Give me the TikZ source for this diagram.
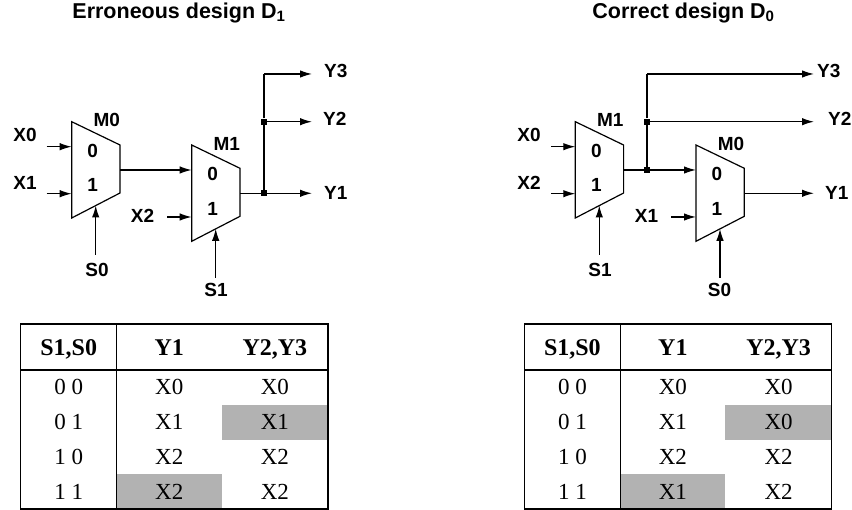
\documentclass[tikz,border=0pt]{standalone}
\usepackage{fontspec}
\setmainfont{Liberation Serif}
\newfontfamily\helv{Liberation Sans}
\usetikzlibrary{arrows.meta,positioning,calc}
\tikzset{sig/.style={-{Latex[length=12pt,width=7.5pt]},line width=1.3pt},
  wire/.style={line width=1.3pt},
  grid/.style={line width=1.4pt},
  lbl/.style={font=\helv\bfseries\fontsize{19}{21}\selectfont,inner sep=0pt,
    text height=13.6pt,text depth=0pt},
  ttl/.style={font=\helv\bfseries\fontsize{21.5}{24}\selectfont,inner sep=0pt,anchor=base},
  hcell/.style={font=\bfseries\fontsize{24}{26}\selectfont,inner sep=0pt,
    text height=16.2pt,text depth=0pt},
  bcell/.style={font=\fontsize{23}{25}\selectfont,inner sep=0pt,
    text height=15.2pt,text depth=0pt},
  jdot/.style={rectangle,fill=black,minimum size=6pt,inner sep=0pt},
  mux/.pic={
    \draw[line width=1.2pt] (0,0) -- (48.3,23.3) -- (48.3,71.3) -- (0,96.3) -- cycle;
    \coordinate (-in0) at (0,25);
    \coordinate (-in1) at (0,72);
    \coordinate (-out) at (48.3,48.3);
    \coordinate (-sel) at (24,83.8);
    \node[lbl] (-zero) at (21,29) {0};
    \node[lbl] (-one) at (21,63.5) {1};
    \node[lbl] (-name) at (35,-1.6) {#1};
  }
}
\colorlet{cellgray}{black!30}

\begin{document}
\begin{tikzpicture}[x=1pt,y=-1pt]
  \useasboundingbox (0,0) rectangle (852,510);

  % titles
  \node[ttl] (titleL) at (179,18.5) {Erroneous design D\textsubscript{1}};
  \node[ttl] (titleR) at (683.5,18.5) {Correct design D\textsubscript{0}};

  % erroneous design
  \pic (L0) at (71.7,121.7) {mux=M0};
  \pic (L1) at (191.7,145) {mux=M1};
  \node[lbl] (XL0) at (25,135) {X0};
  \node[lbl] (XL1) at (25,183) {X1};
  \node[lbl] (XL2) at (142.5,216) {X2};
  \node[lbl] (SL0) at (97,270) {S0};
  \node[lbl] (SL1) at (216,290) {S1};
  \node[lbl,anchor=west] (YL3) at (324,71) {Y3};
  \node[lbl,anchor=west] (YL2) at (323,119) {Y2};
  \node[lbl,anchor=west] (YL1) at (324,192.5) {Y1};
  \coordinate (aL0) at (46.7,0);
  \coordinate (aL2) at (167,0);
  \coordinate (sL0) at (0,255);
  \coordinate (sL1) at (0,278);
  \coordinate (eL) at (312,0);
  \node[jdot] (jL1) at (264,193.3) {};
  \node[jdot] (jL2) at (264,121.7) {};
  \coordinate (tL) at (264,74);

  \draw[sig] (L0-in0 -| aL0) -- (L0-in0);
  \draw[sig] (L0-in1 -| aL0) -- (L0-in1);
  \draw[sig] (L1-in1 -| aL2) -- (L1-in1);
  \draw[sig] (L0-sel |- sL0) -- (L0-sel);
  \draw[sig] (L1-sel |- sL1) -- (L1-sel);
  \draw[sig] (L0-out) -- (L0-out -| L1-in0);
  \draw[wire] (L1-out) -- (jL1) -- (jL2) -- (tL);
  \draw[sig] (jL1) -- (jL1 -| eL);
  \draw[sig] (jL2) -- (jL2 -| eL);
  \draw[sig] (tL) -- (tL -| eL);

  % correct design
  \pic (R1) at (575.3,121.7) {mux=M1};
  \pic (R0) at (696,145) {mux=M0};
  \node[lbl] (XR0) at (529,135) {X0};
  \node[lbl] (XR2) at (529,183) {X2};
  \node[lbl] (XR1) at (646.5,216) {X1};
  \node[lbl] (SR1) at (600,270) {S1};
  \node[lbl] (SR0) at (719.5,290) {S0};
  \node[lbl,anchor=west] (YR3) at (817,71) {Y3};
  \node[lbl,anchor=west] (YR2) at (828,119) {Y2};
  \node[lbl,anchor=west] (YR1) at (825,192.5) {Y1};
  \coordinate (aR0) at (551,0);
  \coordinate (aR1) at (671,0);
  \coordinate (sR1) at (0,255);
  \coordinate (sR0) at (0,278);
  \coordinate (eR) at (814,0);
  \node[jdot] (jR1) at (647,170) {};
  \node[jdot] (jR2) at (647,121.7) {};
  \coordinate (tR) at (647,74);

  \draw[sig] (R1-in0 -| aR0) -- (R1-in0);
  \draw[sig] (R1-in1 -| aR0) -- (R1-in1);
  \draw[sig] (R0-in1 -| aR1) -- (R0-in1);
  \draw[sig] (R1-sel |- sR1) -- (R1-sel);
  \draw[sig] (R0-sel |- sR0) -- (R0-sel);
  \draw[wire] (R1-out) -- (jR1);
  \draw[sig] (jR1) -- (jR1 -| R0-in0);
  \draw[wire] (jR1) -- (jR2) -- (tR);
  \draw[sig] (jR2) -- (jR2 -| eR);
  \draw[sig] (tR) -- (tR -| eR);
  \draw[sig] (R0-out) -- (R0-out -| eR);

  % truth tables
  \foreach \tab/\dx/\rows in {TL/0/{0 0/X0/X0,0 1/X1/X1,1 0/X2/X2,1 1/X2/X2},
                              TR/503.7/{0 0/X0/X0,0 1/X1/X0,1 0/X2/X2,1 1/X1/X2}}
  {
    \begin{scope}[xshift=\dx]
      \fill[cellgray] (221.7,404.8) rectangle (328,439.6);
      \fill[cellgray] (116.7,474.4) rectangle (221.7,509.2);
      \draw[grid] (20.7,324) rectangle (328,509.2);
      \draw[grid] (20.7,370) -- (328,370);
      \draw[grid] (116.7,324) -- (116.7,509.2);
      \node[hcell] (\tab h1) at (68.7,347) {S1,S0};
      \node[hcell] (\tab h2) at (169.2,347) {Y1};
      \node[hcell] (\tab h3) at (274.9,347) {Y2,Y3};
      \foreach \s/\y/\z [count=\r] in \rows
      {
        \pgfmathsetmacro{\ry}{370 + 34.8*(\r - 0.5)}
        \node[bcell] (\tab s\r) at (68.7,\ry) {\s};
        \node[bcell] (\tab y\r) at (169.2,\ry) {\y};
        \node[bcell] (\tab z\r) at (274.9,\ry) {\z};
      }
    \end{scope}
  }
\end{tikzpicture}
\end{document}
